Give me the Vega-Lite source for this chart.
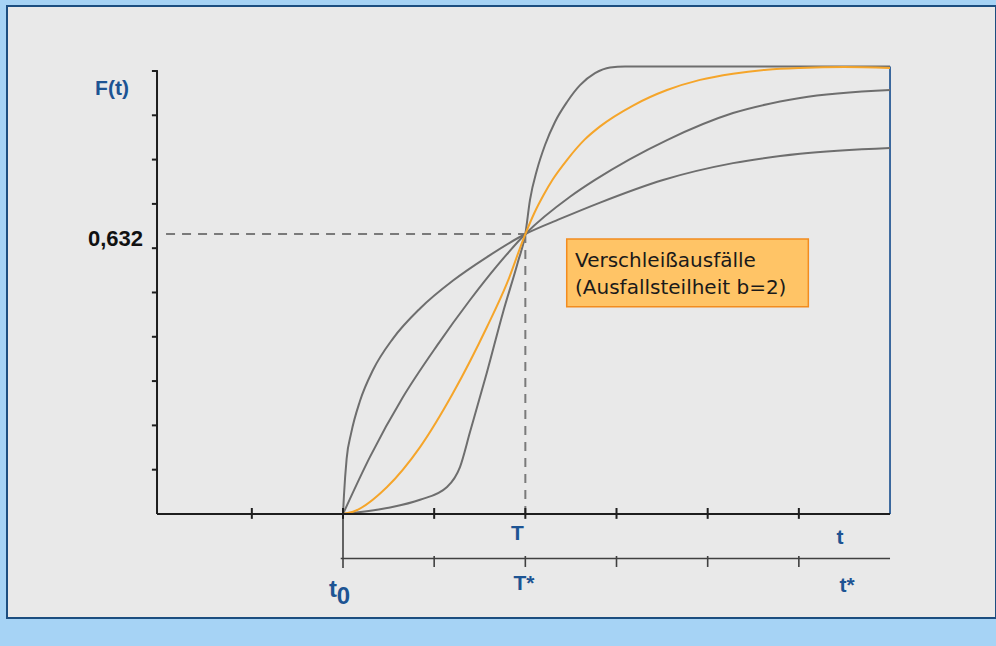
{
  "$schema": "https://vega.github.io/schema/vega-lite/v6.json",
  "width": 989,
  "height": 612,
  "autosize": {"type": "none"},
  "padding": {"left": 7, "top": 6, "right": 0, "bottom": 28},
  "background": "#a6d3f5",
  "config": {"view": {"fill": "#e9e9e9", "stroke": "#1c4e80", "strokeWidth": 2}},
  "datasets": {
    "curves": [
      {"curve": "b=0,5", "t": 0, "F": 0},
      {"curve": "b=0,5", "t": 0.01, "F": 0.04},
      {"curve": "b=0,5", "t": 0.04, "F": 0.125},
      {"curve": "b=0,5", "t": 0.09, "F": 0.183},
      {"curve": "b=0,5", "t": 0.186, "F": 0.255},
      {"curve": "b=0,5", "t": 0.329, "F": 0.325},
      {"curve": "b=0,5", "t": 0.548, "F": 0.396},
      {"curve": "b=0,5", "t": 0.845, "F": 0.464},
      {"curve": "b=0,5", "t": 1.207, "F": 0.527},
      {"curve": "b=0,5", "t": 1.579, "F": 0.58},
      {"curve": "b=0,5", "t": 2, "F": 0.632},
      {"curve": "b=0,5", "t": 2.38, "F": 0.666},
      {"curve": "b=0,5", "t": 2.82, "F": 0.703},
      {"curve": "b=0,5", "t": 3.51, "F": 0.754},
      {"curve": "b=0,5", "t": 4.278, "F": 0.792},
      {"curve": "b=0,5", "t": 5.013, "F": 0.813},
      {"curve": "b=0,5", "t": 6, "F": 0.826},
      {"curve": "b=1", "t": 0, "F": 0},
      {"curve": "b=1", "t": 0.296, "F": 0.129},
      {"curve": "b=1", "t": 0.658, "F": 0.264},
      {"curve": "b=1", "t": 1.031, "F": 0.38},
      {"curve": "b=1", "t": 1.393, "F": 0.483},
      {"curve": "b=1", "t": 1.689, "F": 0.56},
      {"curve": "b=1", "t": 2, "F": 0.632},
      {"curve": "b=1", "t": 2.49, "F": 0.716},
      {"curve": "b=1", "t": 2.764, "F": 0.754},
      {"curve": "b=1", "t": 3.554, "F": 0.844},
      {"curve": "b=1", "t": 4.278, "F": 0.905},
      {"curve": "b=1", "t": 5.013, "F": 0.939},
      {"curve": "b=1", "t": 6, "F": 0.957},
      {"curve": "b=4", "t": 0, "F": 0},
      {"curve": "b=4", "t": 0.483, "F": 0.0135},
      {"curve": "b=4", "t": 0.845, "F": 0.032},
      {"curve": "b=4", "t": 1.141, "F": 0.061},
      {"curve": "b=4", "t": 1.283, "F": 0.106},
      {"curve": "b=4", "t": 1.393, "F": 0.185},
      {"curve": "b=4", "t": 1.579, "F": 0.32},
      {"curve": "b=4", "t": 1.755, "F": 0.455},
      {"curve": "b=4", "t": 1.92, "F": 0.57},
      {"curve": "b=4", "t": 2, "F": 0.632},
      {"curve": "b=4", "t": 2.051, "F": 0.709},
      {"curve": "b=4", "t": 2.128, "F": 0.777},
      {"curve": "b=4", "t": 2.216, "F": 0.833},
      {"curve": "b=4", "t": 2.325, "F": 0.885},
      {"curve": "b=4", "t": 2.457, "F": 0.93},
      {"curve": "b=4", "t": 2.6, "F": 0.968},
      {"curve": "b=4", "t": 2.764, "F": 0.995},
      {"curve": "b=4", "t": 2.929, "F": 1.008},
      {"curve": "b=4", "t": 3.093, "F": 1.01},
      {"curve": "b=4", "t": 6, "F": 1.01},
      {"curve": "b=2", "t": 0, "F": 0},
      {"curve": "b=2", "t": 0.11, "F": 0.005},
      {"curve": "b=2", "t": 0.483, "F": 0.061},
      {"curve": "b=2", "t": 0.845, "F": 0.151},
      {"curve": "b=2", "t": 1.207, "F": 0.273},
      {"curve": "b=2", "t": 1.579, "F": 0.422},
      {"curve": "b=2", "t": 1.799, "F": 0.521},
      {"curve": "b=2", "t": 2, "F": 0.632},
      {"curve": "b=2", "t": 2.1, "F": 0.68},
      {"curve": "b=2", "t": 2.2, "F": 0.72},
      {"curve": "b=2", "t": 2.3, "F": 0.755},
      {"curve": "b=2", "t": 2.46, "F": 0.8},
      {"curve": "b=2", "t": 2.65, "F": 0.845},
      {"curve": "b=2", "t": 2.82, "F": 0.875},
      {"curve": "b=2", "t": 3.181, "F": 0.922},
      {"curve": "b=2", "t": 3.554, "F": 0.957},
      {"curve": "b=2", "t": 3.916, "F": 0.98},
      {"curve": "b=2", "t": 4.278, "F": 0.994},
      {"curve": "b=2", "t": 4.651, "F": 1.003},
      {"curve": "b=2", "t": 5.013, "F": 1.007},
      {"curve": "b=2", "t": 5.5, "F": 1.009},
      {"curve": "b=2", "t": 6, "F": 1.007}
    ],
    "mainAxes": [
      {"t": -2.04, "t2": -2.04, "F": 0, "F2": 1.0},
      {"t": -2.04, "t2": 6, "F": 0, "F2": 0},
      {"t": -2.096, "t2": -2.03, "F": 0.1, "F2": 0.1},
      {"t": -2.096, "t2": -2.03, "F": 0.2, "F2": 0.2},
      {"t": -2.096, "t2": -2.03, "F": 0.3, "F2": 0.3},
      {"t": -2.096, "t2": -2.03, "F": 0.4, "F2": 0.4},
      {"t": -2.096, "t2": -2.03, "F": 0.5, "F2": 0.5},
      {"t": -2.096, "t2": -2.03, "F": 0.6, "F2": 0.6},
      {"t": -2.096, "t2": -2.03, "F": 0.7, "F2": 0.7},
      {"t": -2.096, "t2": -2.03, "F": 0.8, "F2": 0.8},
      {"t": -2.096, "t2": -2.03, "F": 0.9, "F2": 0.9},
      {"t": -2.096, "t2": -2.03, "F": 1.0, "F2": 1.0},
      {"t": -1, "t2": -1, "F": -0.011, "F2": 0.0135},
      {"t": 0, "t2": 0, "F": -0.011, "F2": 0.0135},
      {"t": 1, "t2": 1, "F": -0.011, "F2": 0.0135},
      {"t": 2, "t2": 2, "F": -0.011, "F2": 0.0135},
      {"t": 3, "t2": 3, "F": -0.011, "F2": 0.0135},
      {"t": 4, "t2": 4, "F": -0.011, "F2": 0.0135},
      {"t": 5, "t2": 5, "F": -0.011, "F2": 0.0135}
    ],
    "lowerAxis": [
      {"t": -0.025, "t2": 6, "F": -0.1005, "F2": -0.1005},
      {"t": 0, "t2": 0, "F": 0.0135, "F2": -0.122},
      {"t": 1, "t2": 1, "F": -0.0948, "F2": -0.1196},
      {"t": 2, "t2": 2, "F": -0.0948, "F2": -0.1196},
      {"t": 3, "t2": 3, "F": -0.0948, "F2": -0.1196},
      {"t": 4, "t2": 4, "F": -0.0948, "F2": -0.1196},
      {"t": 5, "t2": 5, "F": -0.0948, "F2": -0.1196}
    ],
    "blueLine": [
      {"t": 6, "t2": 6, "F": 0, "F2": 1.01}
    ],
    "dashed": [
      {"t": -1.941, "t2": 2, "F": 0.632, "F2": 0.632},
      {"t": 2, "t2": 2, "F": 0.632, "F2": 0}
    ],
    "box": [
      {"t": 2.454, "t2": 5.104, "F": 0.468, "F2": 0.621}
    ],
    "boxText": [
      {"label": "Verschleißausfälle", "t": 2.545, "F": 0.557},
      {"label": "(Ausfallsteilheit b=2)", "t": 2.545, "F": 0.4966}
    ],
    "valueLabel": [
      {"label": "0,632", "t": -2.194, "F": 0.605}
    ],
    "blueLabels21": [
      {"label": "F(t)", "t": -2.534, "F": 0.946},
      {"label": "T", "t": 1.914, "F": -0.0587},
      {"label": "T*", "t": 1.985, "F": -0.1716},
      {"label": "t", "t": 5.451, "F": -0.0677},
      {"label": "t*", "t": 5.528, "F": -0.176}
    ],
    "blueLabels24": [
      {"label": "t", "t": -0.11, "F": -0.187},
      {"label": "0", "t": 0.005, "F": -0.203}
    ]
  },
  "encoding": {
    "x": {"field": "t", "type": "quantitative", "scale": {"domain": [-3.6854, 7.1624], "nice": false, "zero": false}, "axis": null},
    "y": {"field": "F", "type": "quantitative", "scale": {"domain": [-0.2348, 1.1467], "nice": false, "zero": false}, "axis": null}
  },
  "layer": [
    {
      "data": {"name": "dashed"},
      "mark": {"type": "rule", "color": "#7a7a7a", "strokeWidth": 2, "strokeDash": [9, 7]},
      "encoding": {"x2": {"field": "t2"}, "y2": {"field": "F2"}}
    },
    {
      "data": {"name": "box"},
      "mark": {"type": "rect", "fill": "#ffc466", "stroke": "#f28c1f", "strokeWidth": 1.5},
      "encoding": {"x2": {"field": "t2"}, "y2": {"field": "F2"}}
    },
    {
      "data": {"name": "lowerAxis"},
      "mark": {"type": "rule", "color": "#404040", "strokeWidth": 1.6},
      "encoding": {"x2": {"field": "t2"}, "y2": {"field": "F2"}}
    },
    {
      "data": {"name": "blueLine"},
      "mark": {"type": "rule", "color": "#2b5c96", "strokeWidth": 1.8},
      "encoding": {"x2": {"field": "t2"}, "y2": {"field": "F2"}}
    },
    {
      "data": {"name": "curves"},
      "mark": {"type": "line", "interpolate": "monotone", "strokeWidth": 2},
      "encoding": {
        "color": {"field": "curve", "type": "nominal", "scale": {"domain": ["b=0,5", "b=1", "b=4", "b=2"], "range": ["#6e6e6e", "#6e6e6e", "#6e6e6e", "#f5a52a"]}, "legend": null},
        "detail": {"field": "curve"}
      }
    },
    {
      "data": {"name": "mainAxes"},
      "mark": {"type": "rule", "color": "#1e1e1e", "strokeWidth": 2},
      "encoding": {"x2": {"field": "t2"}, "y2": {"field": "F2"}}
    },
    {
      "data": {"name": "boxText"},
      "mark": {"type": "text", "font": "DejaVu Sans", "fontSize": 20, "color": "#1a1a1a", "align": "left", "baseline": "alphabetic"},
      "encoding": {"text": {"field": "label"}}
    },
    {
      "data": {"name": "valueLabel"},
      "mark": {"type": "text", "font": "Liberation Sans", "fontWeight": "bold", "fontSize": 22, "color": "#111111", "align": "right", "baseline": "alphabetic"},
      "encoding": {"text": {"field": "label"}}
    },
    {
      "data": {"name": "blueLabels21"},
      "mark": {"type": "text", "font": "Liberation Sans", "fontWeight": "bold", "fontSize": 21, "color": "#1d5493", "align": "center", "baseline": "alphabetic"},
      "encoding": {"text": {"field": "label"}}
    },
    {
      "data": {"name": "blueLabels24"},
      "mark": {"type": "text", "font": "Liberation Sans", "fontWeight": "bold", "fontSize": 24, "color": "#1d5493", "align": "center", "baseline": "alphabetic"},
      "encoding": {"text": {"field": "label"}}
    }
  ]
}
